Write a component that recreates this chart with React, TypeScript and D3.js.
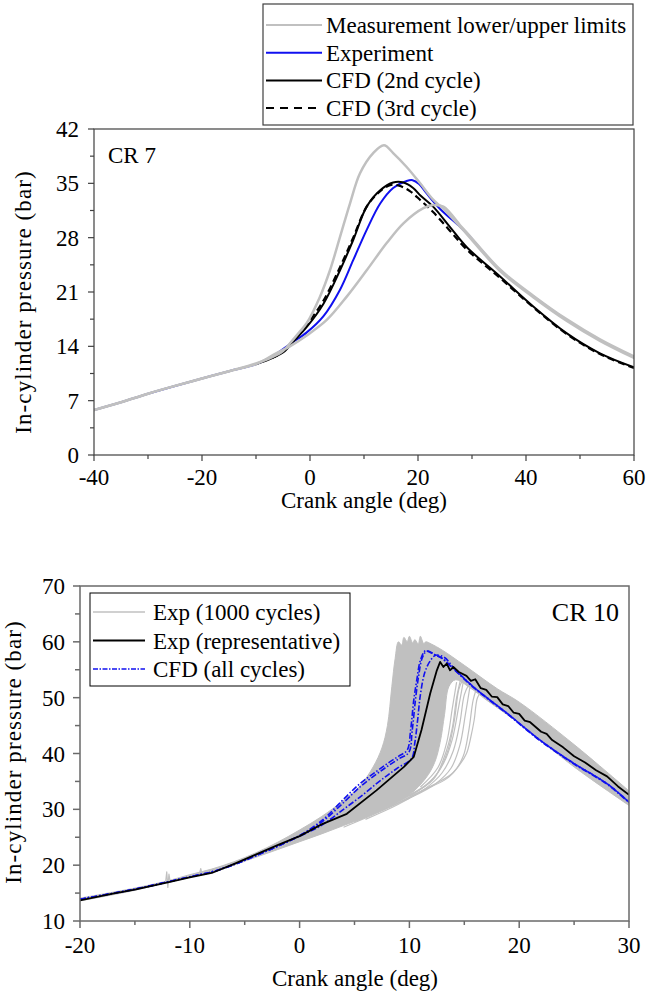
import React from "react";
import * as d3 from "d3";

type P = [number, number];

// ---------- Top chart (CR 7) ----------
const topXTicks = [-40, -20, 0, 20, 40, 60];
const topXMinor = [-30, -10, 10, 30, 50];
const topYTicks = [0, 7, 14, 21, 28, 35, 42];
const topYMinor = [3.5, 10.5, 17.5, 24.5, 31.5, 38.5];

const upperLimit: P[] = [
  [-40, 5.8], [-35, 6.8], [-30, 7.9], [-25, 8.9], [-20, 9.85], [-15, 10.8], [-10, 11.8], [-7, 12.6],
  [-5, 13.4], [-3.7, 14.4], [-2, 15.8], [-0.6, 17.0], [1.85, 20.4], [3.7, 23.8], [5.56, 28.1],
  [7.4, 32.4], [9.26, 36.3], [11.7, 38.9], [13.7, 39.9], [15.4, 38.9], [17.9, 37.1], [20.4, 35.0],
  [22.8, 32.9], [24.7, 31.7], [27.8, 29.4], [29, 28.5], [35.2, 23.7], [41.4, 20.3], [47.5, 17.3],
  [53.7, 14.7], [60, 12.5],
];
const lowerLimit: P[] = [
  [-40, 5.8], [-35, 6.8], [-30, 7.9], [-25, 8.9], [-20, 9.85], [-15, 10.8], [-10, 11.7], [-6.8, 12.9],
  [-3.5, 14.1], [-0.6, 15.4], [3.1, 17.4], [6.8, 20.4], [10.5, 23.8], [14.2, 27.3], [17.3, 29.85],
  [21.0, 31.8], [22.8, 32.2], [24.7, 32.0], [27.8, 29.6], [29, 28.7], [35.2, 23.9], [41.4, 20.5],
  [47.5, 17.5], [53.7, 14.9], [60, 12.7],
];
const experiment: P[] = [
  [-40, 5.8], [-35, 6.8], [-30, 7.9], [-25, 8.9], [-20, 9.85], [-15, 10.8], [-10, 11.7], [-6.8, 12.8],
  [-3.7, 14.3], [-0.6, 15.8], [2.5, 17.9], [5.56, 21.3], [8.0, 25.1], [10.5, 29.0], [13.0, 32.4],
  [15.4, 34.4], [17.9, 35.3], [19.0, 35.4], [20.2, 34.9], [21.6, 33.7], [24.1, 31.7], [27.8, 29.4],
  [29, 28.6], [35.2, 23.8], [41.4, 20.4], [47.5, 17.4], [53.7, 14.8], [60, 12.6],
];
const cfd2nd: P[] = [
  [-10, 11.7], [-7, 12.5], [-5, 13.2], [-3.1, 14.6], [-0.6, 16.5], [2.5, 19.5], [5.56, 23.8],
  [8.0, 27.7], [10.5, 32.0], [13.0, 34.1], [15.4, 35.1], [17.3, 35.1], [19.1, 34.4], [20.5, 33.4],
  [22.8, 32.0], [25.9, 29.4], [29, 26.8], [35.2, 23.0], [41.4, 19.1], [47.5, 15.7], [53.7, 13.1],
  [60, 11.3],
];
const cfd3rd: P[] = [
  [-7, 12.5], [-5, 13.3], [-3.1, 14.8], [-0.6, 16.8], [2.5, 19.9], [5.56, 24.2], [8.0, 28.0],
  [10.5, 32.0], [13.0, 34.0], [15.0, 34.8], [16.5, 34.7], [18.5, 34.0], [20.5, 32.8], [22.8, 31.3],
  [25.9, 28.9], [29, 26.5], [35.2, 22.8], [41.4, 19.0], [47.5, 15.6], [53.7, 13.0], [60, 11.2],
];
const topLegend = ["Measurement lower/upper limits", "Experiment", "CFD (2nd cycle)", "CFD (3rd cycle)"];

// ---------- Bottom chart (CR 10) ----------
const botXTicks = [-20, -10, 0, 10, 20, 30];
const botXMinor = [-15, -5, 5, 15, 25];
const botYTicks = [10, 20, 30, 40, 50, 60, 70];
const botYMinor = [15, 25, 35, 45, 55, 65];

// envelope of the 1000 measured cycles (upper/left edge, then lower/right edge back)
const bandUpper: P[] = [
  [-20, 14.1], [-15, 15.9], [-12, 17.2], [-10, 18.3], [-8, 19.3], [-6, 20.6], [-4, 22.2], [-2, 24.1],
  [0, 26.3], [2, 28.7], [4, 31.6], [5.5, 34.2], [6.7, 37.6], [7.5, 41], [8, 45], [8.4, 52], [8.7, 57],
  [9.0, 60.0], [9.3, 59.4], [9.5, 60.8], [9.8, 60.0], [10, 61.0], [10.3, 59.8], [10.5, 60.4],
  [10.8, 59.6], [11, 61.0], [11.3, 59.7], [11.5, 60.0], [12, 59.6], [13, 58.5], [15, 55.8],
  [18, 51.6], [20, 49.2], [25, 41.6], [30, 33.3],
];
const bandLower: P[] = [
  [30, 30.7], [25, 37.6], [20, 45.4], [17, 49.6], [15.5, 51.8], [14.2, 53.2], [13.6, 52], [13.2, 47],
  [12.8, 42], [12.3, 38.4], [11.5, 35.6], [10, 32.6], [8, 30.4], [6, 28.6], [4, 27.1], [2, 25.6],
  [0, 24.2], [-2, 22.8], [-4, 21.4], [-6, 20.0], [-8, 18.7], [-10, 17.9], [-12, 17.0], [-15, 15.5],
  [-20, 13.6],
];
// a few late-burning measured cycles
const lateCycles: P[][] = [
  [[4, 26.8], [8, 30.2], [11, 33.2], [13.4, 35.5], [14.5, 37.8], [15.2, 40.0], [15.6, 43], [15.9, 46], [16.2, 50], [16.6, 51.2]],
  [[6, 28.2], [9, 30.9], [11.5, 33.8], [13, 36.6], [14, 40.5], [14.6, 45.5], [15, 50.5], [15.4, 52.3]],
  [[8, 30.6], [11, 33.6], [12.6, 36.6], [13.5, 40.5], [14.1, 46], [14.5, 51.5], [14.9, 53.4]],
  [[10, 32.4], [12.2, 35.4], [13.2, 39.5], [13.9, 44.5], [14.3, 50], [14.7, 53.6]],
  [[11, 34], [12.6, 37.5], [13.4, 42], [13.9, 48], [14.3, 52.8]],
  [[7, 29.6], [10, 32.0], [12.4, 34.6], [13.8, 37.4], [14.6, 41.5], [15.1, 47], [15.5, 51.8]],
  [[9, 31.6], [11.8, 34.8], [13.1, 38.2], [13.9, 42.5], [14.5, 48.5], [14.9, 52.8]],
  [[5, 27.8], [9, 31.2], [12, 34.2], [14, 36.6], [14.9, 39.5], [15.4, 44], [15.8, 49.5], [16.1, 51.6]],
];
const spikeA: P[] = [[-12.2, 17.0], [-12.1, 18.8], [-12.0, 16.0], [-11.9, 18.4], [-11.8, 17.2]];
const spikeB: P[] = [[-9.1, 18.6], [-9.0, 19.4], [-8.9, 18.5]];

const expRepresentative: P[] = [
  [-20, 13.7], [-17, 14.9], [-15, 15.6], [-12, 16.9], [-10, 17.8], [-8, 18.6], [-6, 20.2], [-4, 21.9],
  [-2, 23.6], [0, 25.2], [2, 27.3], [4.3, 29.2], [7, 33.4], [9.5, 37.6], [10.4, 39.4], [11.1, 44.2],
  [11.9, 50.8], [12.5, 54.9], [12.8, 56.4], [13.1, 55.5], [13.4, 56.1], [13.7, 54.9], [14.0, 55.5],
  [14.5, 54.6], [15.2, 53.9], [15.6, 53.0], [16.0, 53.3], [16.5, 51.7], [17, 51.4], [17.5, 50.2],
  [18, 50.1], [18.5, 48.8], [19, 48.5], [19.5, 47.3], [20, 47.1], [20.5, 45.9], [21, 45.6],
  [22, 43.9], [22.5, 43.5], [23, 42.4], [24, 41.1], [25, 39.5], [26, 38.4], [27, 37.0], [28, 35.9],
  [29, 34.1], [30, 32.6],
];
const cfdCycle1: P[] = [
  [-20, 13.9], [-15, 15.7], [-12, 17.0], [-10, 17.9], [-8, 18.8], [-6, 20.1], [-4, 21.7], [-2, 23.4],
  [0, 25.3], [1.5, 27.2], [2.5, 28.8], [4, 31.8], [5.5, 34.6], [7, 36.8], [8, 38.2], [9, 39.5],
  [9.8, 40.6], [10.1, 44], [10.4, 49.6], [10.7, 53.5], [11.0, 56.7], [11.45, 58.4], [11.9, 58.2],
  [12.4, 57.6], [12.8, 57.3], [14, 55.2], [15.85, 51.9], [18.9, 47.2], [21.9, 42.4], [25.0, 38.2],
  [28.0, 34.6], [30, 31.3],
];
const cfdCycle2: P[] = [
  [-20, 13.9], [-15, 15.7], [-12, 17.0], [-10, 17.9], [-8, 18.8], [-6, 20.1], [-4, 21.7], [-2, 23.4],
  [0, 25.3], [1.5, 27.0], [2.5, 28.5], [4, 31.2], [5.5, 34.0], [7, 36.3], [8, 37.7], [9, 39.0],
  [9.95, 40.2], [10.25, 44], [10.55, 49.6], [10.85, 54], [11.15, 57], [11.55, 58.3], [12.0, 58.0],
  [12.6, 57.4], [13.0, 57.0], [14, 55.2], [15.85, 51.8], [18.9, 47.1], [21.9, 42.3], [25.0, 38.1],
  [28.0, 34.5], [30, 31.2],
];
const cfdCycle3: P[] = [
  [-20, 13.9], [-15, 15.7], [-12, 17.0], [-10, 17.9], [-8, 18.8], [-6, 20.1], [-4, 21.7], [-2, 23.4],
  [0, 25.2], [1.5, 26.6], [2.5, 27.8], [4, 30.0], [5.5, 32.2], [7, 34.6], [8, 36.1], [9, 37.5],
  [10.2, 39.1], [10.5, 42], [10.75, 46], [11.0, 50.5], [11.4, 54.5], [11.9, 56.6], [12.4, 57.6],
  [13.2, 57.2], [14, 55.4], [15.85, 51.9], [18.9, 47.2], [21.9, 42.4], [25.0, 38.2], [28.0, 34.6],
  [30, 31.3],
];
const botLegend = ["Exp (1000 cycles)", "Exp (representative)", "CFD (all cycles)"];

const FONT = '"Liberation Serif", "Times New Roman", Times, "DejaVu Serif", serif';
const GRAY = "#c0c0c0";
const BLUE = "#1010f0";

export default function App() {
  // top scales
  const xT = d3.scaleLinear().domain([-40, 60]).range([94, 634]);
  const yT = d3.scaleLinear().domain([0, 42]).range([455, 129]);
  const lineT = d3.line<P>().x((d) => xT(d[0])).y((d) => yT(d[1])).curve(d3.curveCatmullRom.alpha(0.5));

  // bottom scales
  const xB = d3.scaleLinear().domain([-20, 30]).range([80, 629]);
  const yB = d3.scaleLinear().domain([10, 70]).range([921, 586]);
  const lineB = d3.line<P>().x((d) => xB(d[0])).y((d) => yB(d[1])).curve(d3.curveLinear);
  const lineBs = d3.line<P>().x((d) => xB(d[0])).y((d) => yB(d[1])).curve(d3.curveCatmullRom.alpha(0.5));
  const bandPath = lineBs(bandUpper)! + "L" + lineBs(bandLower)!.slice(1) + "Z";

  const axisT = "#404040";
  const axisB = "#6a6a6a";
  const fs = 23;

  return (
    <svg width={647} height={997} style={{ position: "absolute", left: 0, top: 0, background: "#fff", fontFamily: FONT }}>
      {/* ---------------- TOP ---------------- */}
      <defs>
        <clipPath id="clipT"><rect x={94} y={129} width={540} height={326} /></clipPath>
        <clipPath id="clipB"><rect x={80} y={586} width={549} height={335} /></clipPath>
      </defs>
      <g clipPath="url(#clipT)" fill="none" strokeLinejoin="round" strokeLinecap="round">
        <path d={lineT(experiment)!} stroke={BLUE} strokeWidth={2} />
        <path d={lineT(cfd2nd)!} stroke="#000" strokeWidth={2} />
        <path d={lineT(cfd3rd)!} stroke="#000" strokeWidth={2.2} strokeDasharray="7,4" strokeLinecap="butt" />
        <path d={lineT(upperLimit)!} stroke={GRAY} strokeWidth={2.5} />
        <path d={lineT(lowerLimit)!} stroke={GRAY} strokeWidth={2.5} />
      </g>
      <rect x={94} y={129} width={540} height={326} fill="none" stroke={axisT} strokeWidth={1.2} />
      {topYTicks.map((t) => (
        <g key={"ty" + t}>
          <line x1={88} x2={94} y1={yT(t)} y2={yT(t)} stroke={axisT} strokeWidth={1.2} />
          <text x={79} y={yT(t) + 8} textAnchor="end" fontSize={fs}>{t}</text>
        </g>
      ))}
      {topYMinor.map((t) => (
        <line key={"tym" + t} x1={90} x2={94} y1={yT(t)} y2={yT(t)} stroke={axisT} strokeWidth={1.2} />
      ))}
      {topXTicks.map((t) => (
        <g key={"tx" + t}>
          <line x1={xT(t)} x2={xT(t)} y1={455} y2={461} stroke={axisT} strokeWidth={1.2} />
          <text x={xT(t)} y={485} textAnchor="middle" fontSize={fs}>{t}</text>
        </g>
      ))}
      {topXMinor.map((t) => (
        <line key={"txm" + t} x1={xT(t)} x2={xT(t)} y1={455} y2={459} stroke={axisT} strokeWidth={1.2} />
      ))}
      <text x={364} y={508} textAnchor="middle" fontSize={fs}>Crank angle (deg)</text>
      <text transform={`translate(31,${302}) rotate(-90)`} textAnchor="middle" fontSize={fs} letterSpacing={1.1}>In-cylinder pressure (bar)</text>
      <text x={108} y={163} fontSize={fs}>CR 7</text>

      {/* top legend */}
      <rect x={263} y={4} width={370} height={121} fill="#fff" stroke={axisT} strokeWidth={1.2} />
      {topLegend.map((label, i) => {
        const y = 25 + i * 27.7;
        const stroke = i === 0 ? GRAY : i === 1 ? BLUE : "#000";
        return (
          <g key={label}>
            <line x1={266} x2={322} y1={y} y2={y} stroke={stroke} strokeWidth={i === 0 ? 2.2 : 2}
              strokeDasharray={i === 3 ? "8,6" : undefined} />
            <text x={326} y={y + 8} fontSize={fs}>{label}</text>
          </g>
        );
      })}

      {/* ---------------- BOTTOM ---------------- */}
      <g clipPath="url(#clipB)" fill="none" strokeLinejoin="round">
        <path d={bandPath} fill={GRAY} stroke={GRAY} strokeWidth={1} />
        {lateCycles.map((c, i) => (
          <path key={"lc" + i} d={lineBs(c)!} stroke={GRAY} strokeWidth={1.2} />
        ))}
        <path d={lineB(spikeA)!} stroke={GRAY} strokeWidth={1.2} />
        <path d={lineB(spikeB)!} stroke={GRAY} strokeWidth={1.2} />
        {[cfdCycle1, cfdCycle2, cfdCycle3].map((c, i) => (
          <path key={"cfd" + i} d={lineBs(c)!} stroke={BLUE} strokeWidth={1.6} strokeDasharray="6,2,1.5,2" />
        ))}
        <path d={lineB(expRepresentative)!} stroke="#000" strokeWidth={1.8} />
      </g>
      <rect x={80} y={586} width={549} height={335} fill="none" stroke={axisB} strokeWidth={1.5} />
      {botYTicks.map((t) => (
        <g key={"by" + t}>
          <line x1={73} x2={80} y1={yB(t)} y2={yB(t)} stroke={axisB} strokeWidth={1.5} />
          <text x={65} y={yB(t) + 8} textAnchor="end" fontSize={fs}>{t}</text>
        </g>
      ))}
      {botYMinor.map((t) => (
        <line key={"bym" + t} x1={75} x2={80} y1={yB(t)} y2={yB(t)} stroke={axisB} strokeWidth={1.5} />
      ))}
      {botXTicks.map((t) => (
        <g key={"bx" + t}>
          <line x1={xB(t)} x2={xB(t)} y1={921} y2={928} stroke={axisB} strokeWidth={1.5} />
          <text x={xB(t)} y={953} textAnchor="middle" fontSize={fs}>{t}</text>
        </g>
      ))}
      {botXMinor.map((t) => (
        <line key={"bxm" + t} x1={xB(t)} x2={xB(t)} y1={921} y2={925} stroke={axisB} strokeWidth={1.5} />
      ))}
      <text x={355} y={986} textAnchor="middle" fontSize={fs}>Crank angle (deg)</text>
      <text transform={`translate(21,${752}) rotate(-90)`} textAnchor="middle" fontSize={fs} letterSpacing={1.1}>In-cylinder pressure (bar)</text>
      <text x={619} y={621} textAnchor="end" fontSize={26}>CR 10</text>

      {/* bottom legend */}
      <rect x={90} y={593} width={260} height={93} fill="#fff" stroke="#000" strokeWidth={1} />
      {botLegend.map((label, i) => {
        const y = 612 + i * 28.5;
        const stroke = i === 0 ? GRAY : i === 1 ? "#000" : BLUE;
        return (
          <g key={label}>
            <line x1={93} x2={145} y1={y} y2={y} stroke={stroke} strokeWidth={i === 1 ? 2 : 1.5}
              strokeDasharray={i === 2 ? "5,1.5,1.5,1.5" : undefined} />
            <text x={153} y={y + 8} fontSize={fs}>{label}</text>
          </g>
        );
      })}
    </svg>
  );
}
